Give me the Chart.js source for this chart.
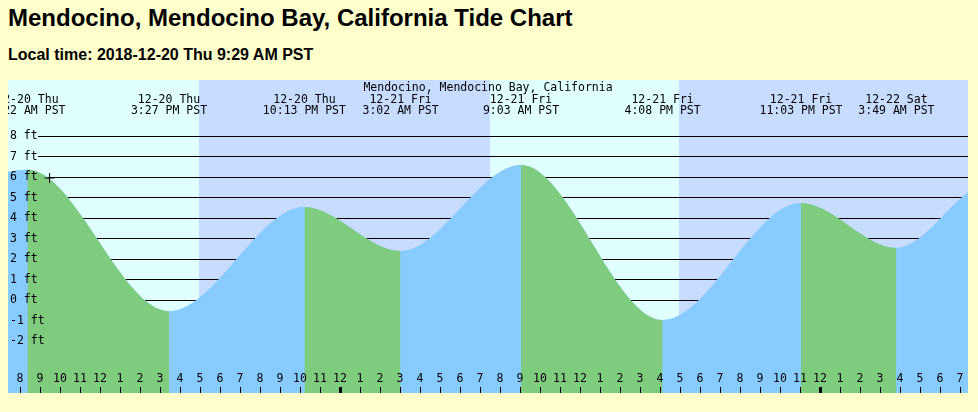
<!DOCTYPE html>
<html>
<head>
<meta charset="UTF-8">
<title>Mendocino, Mendocino Bay, California Tide Chart</title>
<script src="https://cdn.jsdelivr.net/npm/chart.js@4.4.1/dist/chart.umd.min.js"></script>
<style>
  html, body { margin: 0; padding: 0; background: #ffffcc; width: 978px; height: 412px; overflow: hidden; }
  .title { position: absolute; left: 8px; top: 6px; font: bold 24px/24px "Liberation Sans", Arial, sans-serif; color: #000; white-space: nowrap; }
  .subtitle { position: absolute; left: 8px; top: 47px; font: bold 16px/16px "Liberation Sans", Arial, sans-serif; color: #000; white-space: nowrap; }
  #tideChart { position: absolute; left: 8px; top: 80px; }
</style>
</head>
<body>
<div class="title">Mendocino, Mendocino Bay, California Tide Chart</div>
<div class="subtitle">Local time: 2018-12-20 Thu 9:29 AM PST</div>
<canvas id="tideChart" width="960" height="313"></canvas>
<script>
// 時刻は 12-20 00:00 からの経過時間（時間）
const stationName = "Mendocino, Mendocino Bay, California";

// 潮位カーブ（端点 + 満潮・干潮）
const tideTimes = [7.4, 8.37, 15.45, 22.22, 27.03, 33.05, 40.13, 47.05, 51.82, 55.4];
const tideHeights = [6.25, 6.35, -0.55, 4.54, 2.39, 6.59, -0.98, 4.73, 2.54, 5.25];

// 満潮・干潮のラベル
const extremeTimes = [8.37, 15.45, 22.22, 27.03, 33.05, 40.13, 47.05, 51.82];
const extremeDates = ["12-20 Thu", "12-20 Thu", "12-20 Thu", "12-21 Fri", "12-21 Fri", "12-21 Fri", "12-21 Fri", "12-22 Sat"];
const extremeClock = ["8:22 AM PST", "3:27 PM PST", "10:13 PM PST", "3:02 AM PST", "9:03 AM PST", "4:08 PM PST", "11:03 PM PST", "3:49 AM PST"];

// 現在時刻
const nowTime = 9.48;
const nowHeight = 5.95;

// 夜間
const nightStarts = [16.95, 40.95];
const nightEnds = [31.5, 55.4];

// 軸ラベル
const heightTicks = [8, 7, 6, 5, 4, 3, 2, 1, 0, -1, -2];
const hourTicks = [8, 9, 10, 11, 12, 13, 14, 15, 16, 17, 18, 19, 20, 21, 22, 23,
  24, 25, 26, 27, 28, 29, 30, 31, 32, 33, 34, 35, 36, 37, 38, 39, 40, 41, 42, 43,
  44, 45, 46, 47, 48, 49, 50, 51, 52, 53, 54, 55];
const hourLabels = ["8", "9", "10", "11", "12", "1", "2", "3", "4", "5", "6", "7", "8", "9", "10", "11",
  "12", "1", "2", "3", "4", "5", "6", "7", "8", "9", "10", "11", "12", "1", "2", "3", "4", "5", "6", "7",
  "8", "9", "10", "11", "12", "1", "2", "3", "4", "5", "6", "7"];
const midnights = [24, 48];

const DAY = "#e0ffff";
const NIGHT = "#c8dcff";
const FALLING = "#7fcc7f";
const RISING = "#88ccff";
const FONT = '11.5px "DejaVu Sans Mono", monospace';

const tidePoints = tideTimes.map((t, i) => ({ x: t, y: tideHeights[i] }));

const tideDecor = {
  id: "tideDecor",
  beforeDatasetsDraw(chart) {
    const { ctx, chartArea: a, scales: { x, y } } = chart;
    ctx.save();
    ctx.fillStyle = DAY;
    ctx.fillRect(a.left, a.top, a.right - a.left, a.bottom - a.top);
    ctx.fillStyle = NIGHT;
    for (let i = 0; i < nightStarts.length; i++) {
      const x0 = x.getPixelForValue(nightStarts[i]);
      const x1 = x.getPixelForValue(nightEnds[i]);
      ctx.fillRect(x0, a.top, x1 - x0, a.bottom - a.top);
    }
    // 水平線
    ctx.strokeStyle = "#000";
    ctx.lineWidth = 1;
    heightTicks.forEach((v) => {
      const py = Math.round(y.getPixelForValue(v)) + 0.5;
      ctx.beginPath();
      ctx.moveTo(a.left + 30, py);
      ctx.lineTo(a.right, py);
      ctx.stroke();
    });
    ctx.restore();
  },
  afterDatasetsDraw(chart) {
    const { ctx, chartArea: a, scales: { x, y } } = chart;
    ctx.save();
    ctx.fillStyle = "#000";
    ctx.font = FONT;
    ctx.textBaseline = "middle";

    // 地点名
    ctx.textAlign = "center";
    ctx.fillText(stationName, (a.left + a.right) / 2, a.top + 8);

    // 満潮・干潮
    extremeTimes.forEach((t, i) => {
      const px = x.getPixelForValue(t);
      ctx.fillText(extremeDates[i], px, a.top + 20);
      ctx.fillText(extremeClock[i], px, a.top + 31);
    });

    // 潮位ラベル
    ctx.textAlign = "left";
    heightTicks.forEach((v) => {
      ctx.fillText(v + " ft", a.left + 2, y.getPixelForValue(v) + 0.5);
    });

    // 時刻目盛
    ctx.textAlign = "center";
    hourTicks.forEach((h, i) => {
      const px = Math.round(x.getPixelForValue(h));
      ctx.fillText(hourLabels[i], px, a.bottom - 14);
      const w = midnights.includes(h) ? 3 : 1;
      ctx.fillRect(px - (w > 1 ? 1 : 0), a.bottom - 6, w, 6);
    });
    ctx.restore();
  },
};

new Chart(document.getElementById("tideChart"), {
  type: "line",
  data: {
    datasets: [
      {
        label: "now",
        data: [{ x: nowTime, y: nowHeight }],
        showLine: false,
        pointStyle: "cross",
        pointRadius: 5,
        borderColor: "#000",
        borderWidth: 1,
        order: 0,
      },
      {
        // 上げ潮・下げ潮で色分け
        label: "tide",
        data: tidePoints,
        cubicInterpolationMode: "monotone",
        fill: "start",
        backgroundColor: RISING,
        borderColor: "rgba(0,0,0,0)",
        borderWidth: 0,
        pointRadius: 0,
        segment: {
          backgroundColor: (c) => (c.p0.parsed.y > c.p1.parsed.y ? FALLING : RISING),
        },
        order: 1,
      },
      {
        // 下地（区間の継ぎ目を隠す）
        label: "base",
        data: tidePoints,
        cubicInterpolationMode: "monotone",
        fill: "start",
        backgroundColor: RISING,
        borderColor: "rgba(0,0,0,0)",
        borderWidth: 0,
        pointRadius: 0,
        order: 2,
      },
    ],
  },
  options: {
    responsive: false,
    animation: false,
    devicePixelRatio: 1,
    layout: { padding: 0, autoPadding: false },
    plugins: { legend: { display: false }, tooltip: { enabled: false } },
    scales: {
      x: { type: "linear", min: 7.4, max: 55.4, display: false },
      y: { type: "linear", min: -4.5366, max: 10.7317, display: false },
    },
  },
  plugins: [tideDecor],
});
</script>
</body>
</html>
